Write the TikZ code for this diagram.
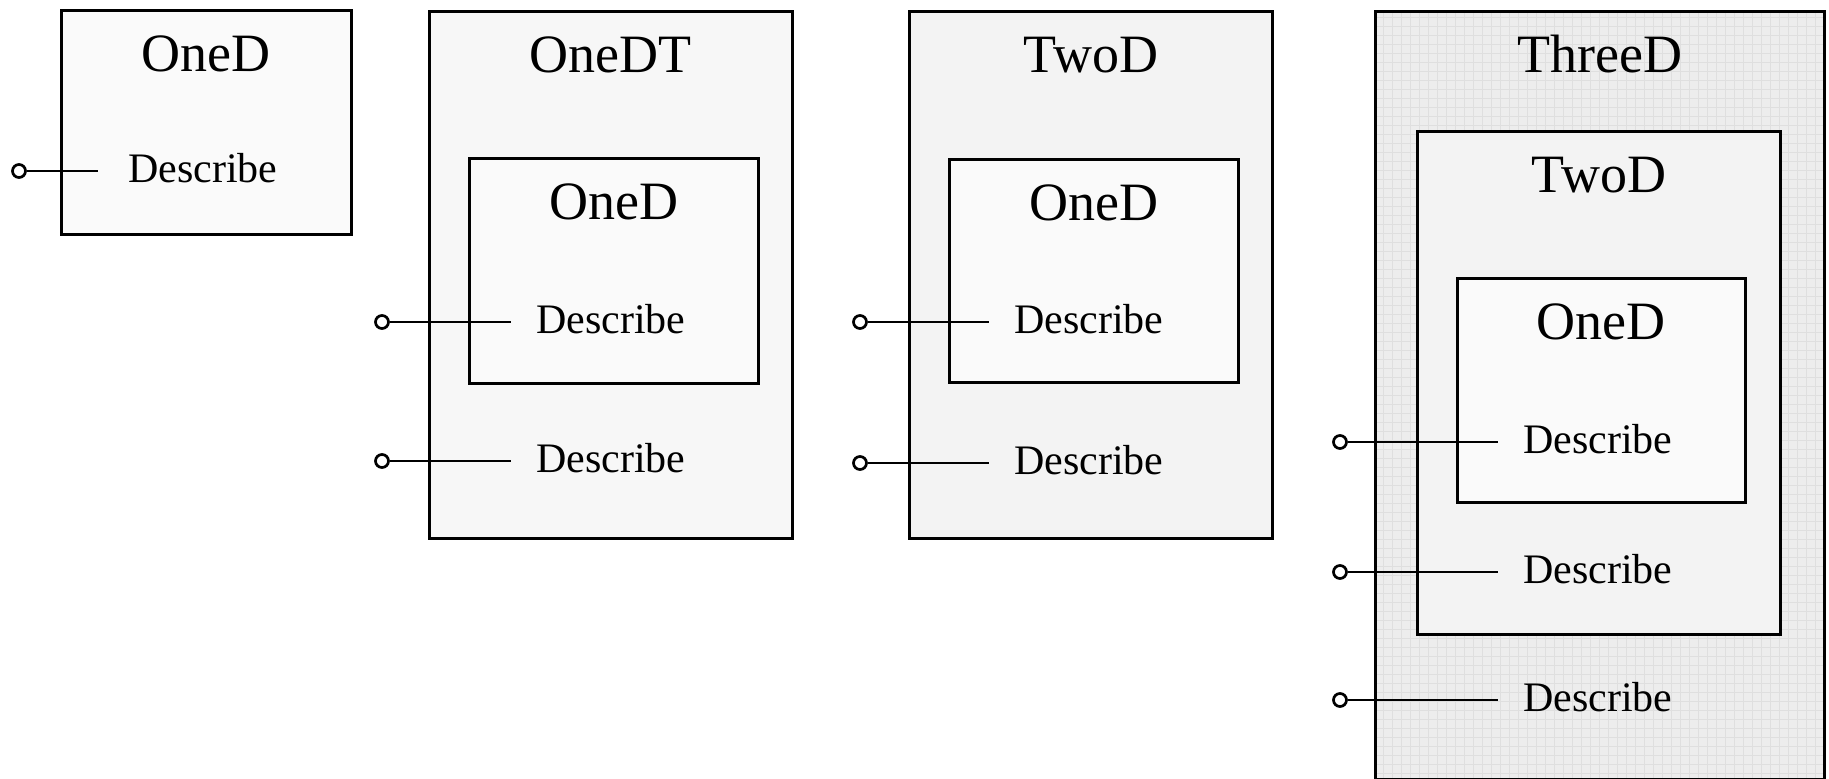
\documentclass[tikz,border=0pt]{standalone}
\usepackage{fontspec}
\setmainfont{Liberation Serif}
\usetikzlibrary{positioning}

\definecolor{oneshade}{HTML}{FAFAFA}
\definecolor{onetshade}{HTML}{F7F7F7}
\definecolor{twoshade}{HTML}{F3F3F3}
\definecolor{threeshade}{HTML}{EDEDED}
\definecolor{meshline}{HTML}{DFDFDF}

\begin{document}
\begin{tikzpicture}[x=1pt, y=-1pt,
    box/.style={draw, line width=2.7pt, inner sep=0pt, anchor=north west},
    mesh/.style={path picture={\draw[meshline, line width=0.8pt, step=9pt]
        (path picture bounding box.south west) grid (path picture bounding box.north east);}},
    title/.style={anchor=base, font=\fontsize{54}{62}\selectfont},
    lbl/.style={anchor=base west, inner xsep=25pt, font=\fontsize{42}{50}\selectfont},
    port/.style={circle, draw, fill=white, line width=2.7pt, inner sep=0pt, minimum size=13pt},
    wire/.style={line width=2.8pt}]
    \useasboundingbox (0,0) rectangle (1829,779);

    % boxes
    \node[box, fill=oneshade, minimum width=290, minimum height=224] (oned) at (60,9) {};
    \node[box, fill=onetshade, minimum width=363, minimum height=527] (onedt) at (428,10) {};
    \node[box, fill=oneshade, minimum width=289, minimum height=225] (onedtin) at (468,157) {};
    \node[box, fill=twoshade, minimum width=363, minimum height=527] (twod) at (908,10) {};
    \node[box, fill=oneshade, minimum width=289, minimum height=223] (twodin) at (948,158) {};
    \node[box, mesh, fill=threeshade, minimum width=449, minimum height=768] (threed) at (1374,10) {};
    \node[box, fill=twoshade, minimum width=363, minimum height=503] (threedtwo) at (1416,130) {};
    \node[box, fill=oneshade, minimum width=288, minimum height=224] (threedone) at (1456,277) {};

    % titles
    \node[title] (t1) at ([yshift=-62pt]oned.north) {OneD};
    \node[title] (t2) at ([yshift=-62pt]onedt.north) {OneDT};
    \node[title] (t3) at ([yshift=-62pt]onedtin.north) {OneD};
    \node[title] (t4) at ([yshift=-62pt]twod.north) {TwoD};
    \node[title] (t5) at ([yshift=-62pt]twodin.north) {OneD};
    \node[title] (t6) at ([yshift=-62pt]threed.north) {ThreeD};
    \node[title] (t7) at ([yshift=-62pt]threedtwo.north) {TwoD};
    \node[title] (t8) at ([yshift=-62pt]threedone.north) {OneD};

    % describe labels, baseline 11 below the wire
    \node[lbl, inner xsep=30pt] (d1) at (98,182) {Describe};
    \node[lbl] (d2) at (511,333) {Describe};
    \node[lbl] (d3) at (511,472) {Describe};
    \node[lbl] (d4) at (989,333) {Describe};
    \node[lbl] (d5) at (989,474) {Describe};
    \node[lbl] (d6) at (1498,453) {Describe};
    \node[lbl] (d7) at (1498,583) {Describe};
    \node[lbl] (d8) at (1498,711) {Describe};

    % ports
    \node[port] (p1) at (19,171) {};
    \node[port] (p2) at (382,322) {};
    \node[port] (p3) at (382,461) {};
    \node[port] (p4) at (860,322) {};
    \node[port] (p5) at (860,463) {};
    \node[port] (p6) at (1340,442) {};
    \node[port] (p7) at (1340,572) {};
    \node[port] (p8) at (1340,700) {};

    \draw[wire] (p1) -- (p1 -| d1.west);
    \draw[wire] (p2) -- (p2 -| d2.west);
    \draw[wire] (p3) -- (p3 -| d3.west);
    \draw[wire] (p4) -- (p4 -| d4.west);
    \draw[wire] (p5) -- (p5 -| d5.west);
    \draw[wire] (p6) -- (p6 -| d6.west);
    \draw[wire] (p7) -- (p7 -| d7.west);
    \draw[wire] (p8) -- (p8 -| d8.west);
\end{tikzpicture}
\end{document}
